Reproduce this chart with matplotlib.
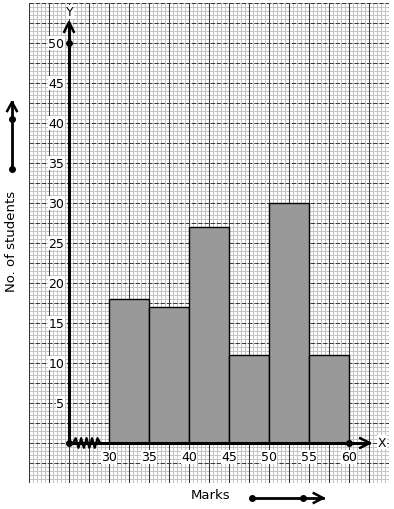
import numpy as np
from matplotlib import pyplot as plt

# data
class_starts = [30, 35, 40, 45, 50, 55]
students = [18, 17, 27, 11, 30, 11]
class_width = 5
x_ticks = [30, 35, 40, 45, 50, 55, 60]
y_ticks = [5, 10, 15, 20, 25, 30, 35, 40, 45, 50]

fig = plt.figure(figsize=(3.94, 5.10), dpi=100)
ax = fig.add_axes([29 / 394, 26 / 510, 360 / 394, 480 / 510])
ax.set_xlim(20, 65)
ax.set_ylim(-5, 55)
ax.set_xticks([])
ax.set_yticks([])
for s in ax.spines.values():
    s.set_visible(False)

# graph paper grid
for v in np.arange(20, 65.01, 0.5):
    ax.axvline(v, color='#c4c4c4', lw=0.7, zorder=0)
for v in np.arange(-5, 55.01, 0.5):
    ax.axhline(v, color='#c4c4c4', lw=0.7, zorder=0)
for v in np.arange(20, 65.01, 2.5):
    ax.axvline(v, color='#3a3a3a', lw=0.75, zorder=1)
for v in np.arange(-5, 55.01, 2.5):
    ax.axhline(v, color='#3a3a3a', lw=0.75, ls=(0, (4, 2)), zorder=1)

# histogram bars
ax.bar(class_starts, students, width=class_width, align='edge',
       color='#999999', edgecolor='black', linewidth=1.0, zorder=3)

# axes lines
ax.plot([25, 25], [0, 52.6], color='black', lw=2.2, zorder=4, solid_capstyle='butt')
ax.plot([24.4, 25, 25.6], [51.4, 52.6, 51.4], color='black', lw=1.8, zorder=4)
ax.plot([25, 62.6], [0, 0], color='black', lw=2.2, zorder=4, solid_capstyle='butt')
ax.plot([61.4, 62.6, 61.4], [0.6, 0, -0.6], color='black', lw=1.8, zorder=4)
ax.plot([25, 25, 60], [0, 50, 0], 'o', color='black', ms=4, zorder=5)

# kink on x axis
zx = np.linspace(25.5, 28.9, 11)
zy = np.array([0, 0.6, -0.6, 0.6, -0.6, 0.6, -0.6, 0.6, -0.6, 0.6, 0])
ax.plot(zx, zy, color='black', lw=1.6, zorder=4)

ax.text(25.1, 53.9, 'Y', ha='center', va='center', fontsize=9,
        bbox=dict(fc='white', ec='none', pad=0.3), zorder=6)
ax.text(63.6, 0.1, 'X', ha='left', va='center', fontsize=9,
        bbox=dict(fc='white', ec='none', pad=0.3), zorder=6)

# tick labels
for t in y_ticks:
    ax.text(24.4, t, str(t), ha='right', va='center', fontsize=9,
            bbox=dict(fc='white', ec='none', pad=0.3), zorder=6)
for t in x_ticks:
    ax.text(t, -1.75, str(t), ha='center', va='center', fontsize=9,
            bbox=dict(fc='white', ec='none', pad=0.3), zorder=6)

# axis titles with arrows
fig.text(12 / 394, 1 - 241 / 510, 'No. of students', rotation=90,
         ha='center', va='center', fontsize=9.5)
fig.text(211 / 394, 1 - 496 / 510, 'Marks', ha='center', va='center', fontsize=9.5)

ax.plot([17.875, 17.875], [34.25, 42.6], color='black', lw=2, clip_on=False)
ax.plot([17.275, 17.875, 18.475], [41.5, 42.6, 41.5], color='black', lw=1.8, clip_on=False)
ax.plot([17.875, 17.875], [34.25, 40.5], 'o', color='black', ms=4, clip_on=False)

ax.plot([47.875, 56.75], [-6.875, -6.875], color='black', lw=2, clip_on=False)
ax.plot([55.6, 56.75, 55.6], [-6.275, -6.875, -7.475], color='black', lw=1.8, clip_on=False)
ax.plot([47.875, 54.25], [-6.875, -6.875], 'o', color='black', ms=4, clip_on=False)

plt.savefig('out.png', dpi=100)
